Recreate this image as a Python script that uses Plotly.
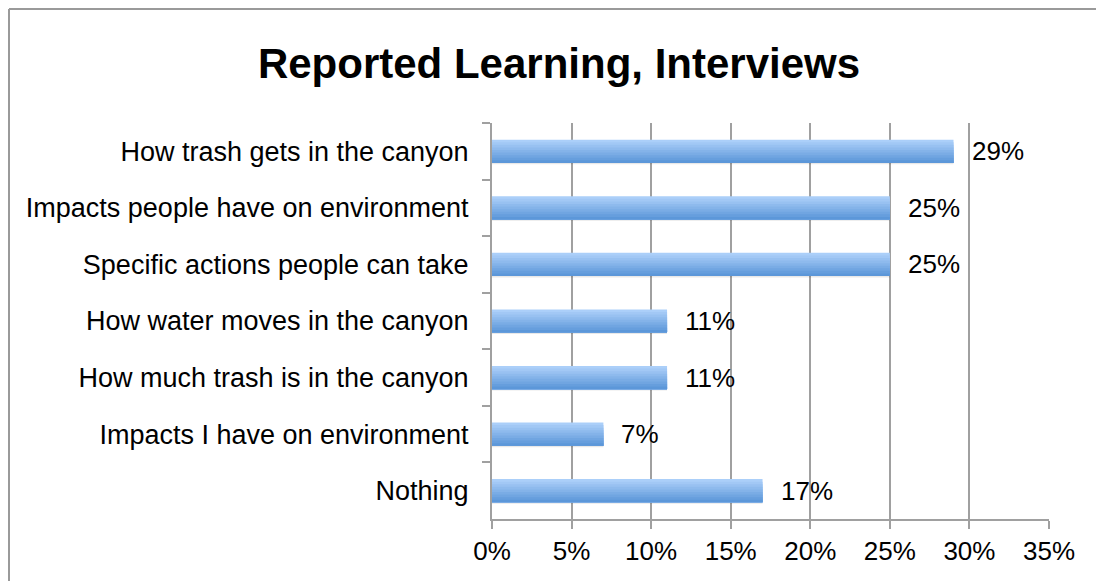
import plotly.graph_objects as go

categories = [
    "How trash gets in the canyon",
    "Impacts people have on environment",
    "Specific actions people can take",
    "How water moves in the canyon",
    "How much trash is in the canyon",
    "Impacts I have on environment",
    "Nothing",
]
values = [29, 25, 25, 11, 11, 7, 17]
x_ticks = [0, 5, 10, 15, 20, 25, 30, 35]
x_tick_labels = ["0%", "5%", "10%", "15%", "20%", "25%", "30%", "35%"]

FONT = "Helvetica, Arial, Liberation Sans, sans-serif"

# page has an 8px body margin, so the figure is 8px smaller than the window
W, H = 1096, 573
L, R, T, B = 484, 55, 115, 62
PW, PH = W - L - R, H - T - B

fig = go.Figure()

# soft shadow under each bar
fig.add_trace(go.Bar(
    y=categories, x=values, orientation="h",
    width=0.07, offset=0.16,
    marker=dict(color="rgba(0,0,0,0.09)", line=dict(width=0)),
    hoverinfo="skip", showlegend=False,
))

# fake vertical gradient: overlapping strips, light on top, darker at the bottom
bar_h = 0.41
strip_colors = ["#abcff9", "#a2c8f5", "#98c1f1", "#8ebaed",
                "#84b3e9", "#7aace5", "#70a5e1", "#669edd", "#5c97d9"]
n = len(strip_colors)
for i, c in enumerate(strip_colors):
    # reversed axis: negative offset is towards the top
    fig.add_trace(go.Bar(
        y=categories, x=values, orientation="h",
        width=bar_h - i * bar_h / n, offset=-bar_h / 2 + i * bar_h / n,
        marker=dict(color=c, line=dict(width=0)),
        hoverinfo="skip", showlegend=False,
    ))

for cat, v in zip(categories, values):
    fig.add_annotation(x=v, y=cat, text=f"{v}%", showarrow=False,
                       xanchor="left", xshift=16,
                       font=dict(family=FONT, size=26, color="#000"))

fig.update_layout(
    width=W, height=H,
    barmode="overlay",
    paper_bgcolor="white", plot_bgcolor="white",
    margin=dict(l=L, r=R, t=T, b=B),
    title=dict(text="<b>Reported Learning, Interviews</b>",
               x=551 / W, xanchor="center", y=1 - 55 / H, yanchor="middle",
               font=dict(family=FONT, size=42, color="#000")),
    font=dict(family=FONT, size=26, color="#000"),
    xaxis=dict(range=[0, 35], tickvals=x_ticks, ticktext=x_tick_labels,
               showgrid=True, gridcolor="#a0a0a0", gridwidth=2,
               showline=True, linecolor="#a0a0a0", linewidth=2,
               ticks="outside", ticklen=8, tickwidth=2, tickcolor="#a0a0a0",
               zeroline=False, tickfont=dict(size=26), fixedrange=True),
    yaxis=dict(autorange="reversed", type="category",
               showline=True, linecolor="#a0a0a0", linewidth=2,
               ticks="outside", tickson="boundaries", ticklen=8, tickwidth=2,
               tickcolor="#a0a0a0", showgrid=False, ticklabelstandoff=16,
               tickfont=dict(size=27), fixedrange=True),
    shapes=[
        dict(type="line", xref="paper", yref="paper",
             x0=(1 - L) / PW, x1=(W + 20 - L) / PW,
             y0=(PH + T - 1) / PH, y1=(PH + T - 1) / PH,
             line=dict(color="#9a9a9a", width=2)),
        dict(type="line", xref="paper", yref="paper",
             x0=(1 - L) / PW, x1=(1 - L) / PW,
             y0=(PH + T - 1) / PH, y1=-(B + 20) / PH,
             line=dict(color="#9a9a9a", width=2)),
    ],
)

fig.write_html("out.html")
